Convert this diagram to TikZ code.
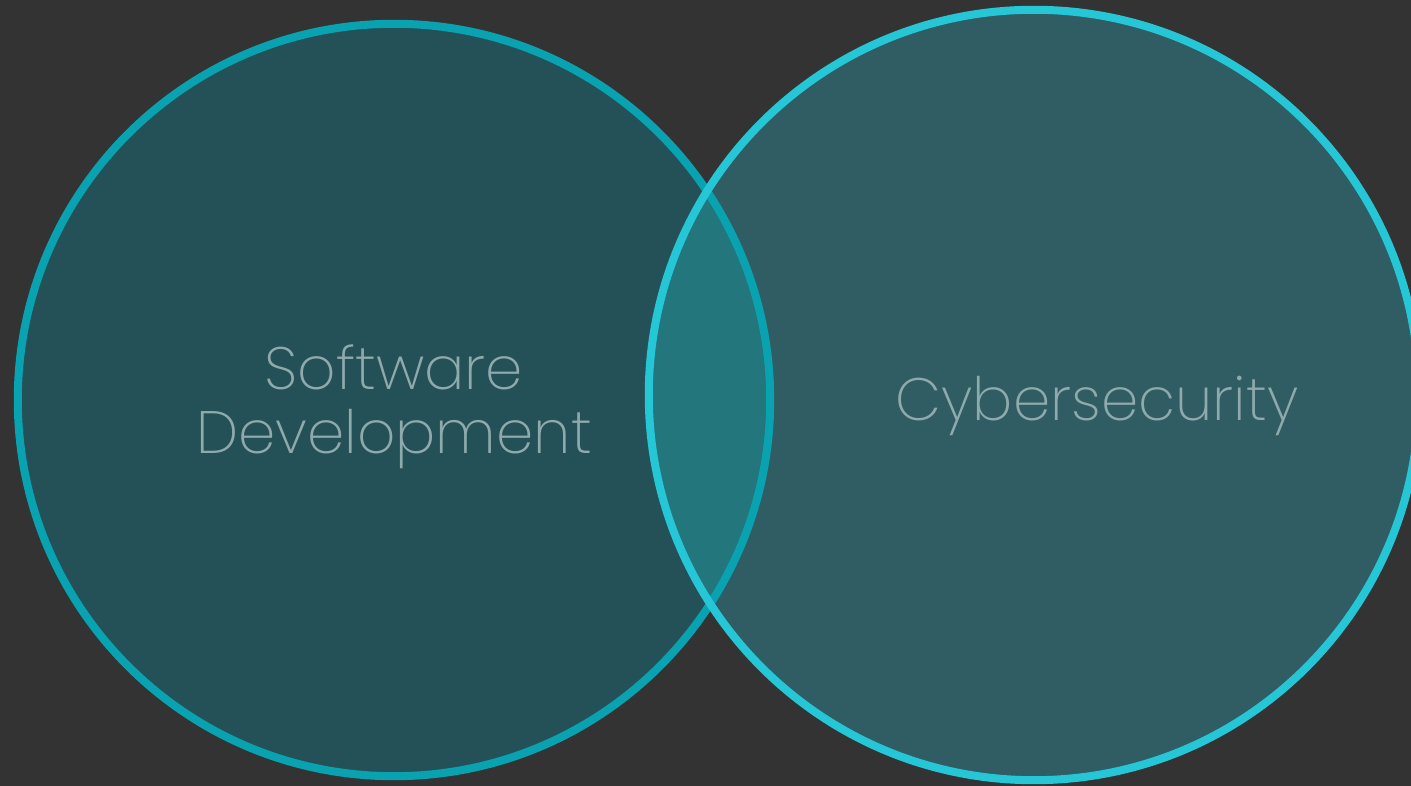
\documentclass[tikz,border=0pt]{standalone}
\usepackage{fontspec}
\setmainfont{Poppins}[UprightFont={* ExtraLight}]
\definecolor{bgdark}{HTML}{333333}
\definecolor{softfill}{HTML}{245157}
\definecolor{softline}{HTML}{08A2B1}
\definecolor{cyberfill}{HTML}{305D63}
\definecolor{cyberline}{HTML}{25C6D6}
\definecolor{bothfill}{HTML}{23767C}
\definecolor{labelgray}{HTML}{8FAAAC}
\tikzstyle{setsoft}=[circle,fill=softfill,minimum size=7.52cm,inner sep=0pt]
\tikzstyle{setcyber}=[circle,fill=cyberfill,minimum size=7.7cm,inner sep=0pt]
\tikzstyle{setlabel}=[text=labelgray,align=center,inner sep=0pt,font=\fontsize{17}{18.2}\selectfont]

\begin{document}
\begin{tikzpicture}[x=0.01cm,y=-0.01cm]
    \fill[bgdark] (0,0) rectangle (1411,786);
    \useasboundingbox (0,0) rectangle (1411,786);
    \node[setsoft] (soft) at (394,400) {};
    \node[setcyber] (cyber) at (1034,395) {};
    % overlap of the two sets
    \begin{scope}
        \clip (soft.center) circle (3.76cm);
        \fill[bothfill] (cyber.center) circle (3.85cm);
    \end{scope}
    \draw[softline,line width=0.08cm] (soft.center) circle (3.76cm);
    \draw[cyberline,line width=0.08cm] (cyber.center) circle (3.85cm);
    \node[setlabel] (softtext) at (394,407) {Software\\Development};
    \node[setlabel,anchor=base] (cybertext) at (1097,421) {Cybersecurity};
\end{tikzpicture}
\end{document}
